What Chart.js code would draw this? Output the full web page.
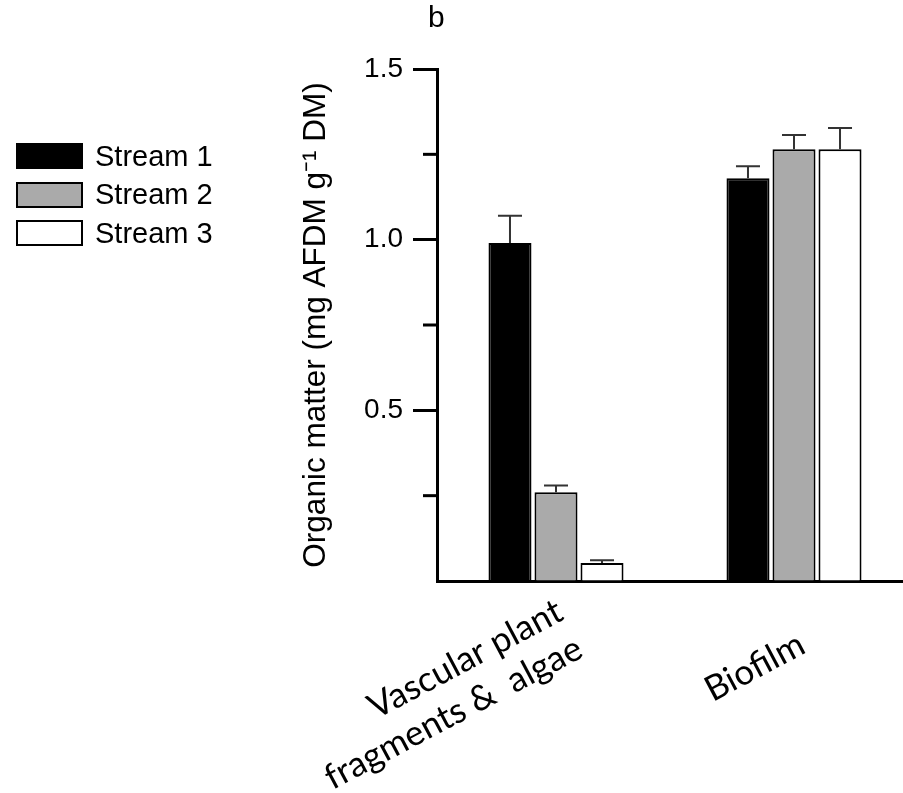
<!DOCTYPE html>
<html>
<head>
<meta charset="utf-8">
<script src="https://cdn.jsdelivr.net/npm/chart.js@4"></script>
<style>
  html, body { margin: 0; padding: 0; background: #fff; overflow: hidden; }
  #wrap { position: relative; width: 903px; height: 793px; overflow: hidden; }
  #panel { position: absolute; left: 428px; top: 0px; font: 30px "Liberation Sans", Arial, sans-serif; }
  #legend { position: absolute; left: 16px; top: 137px; font: 29px "Liberation Sans", Arial, sans-serif; }
  .row { display: flex; align-items: center; height: 38.5px; }
  .box { width: 63px; height: 22px; border: 2px solid #000; margin-right: 12px; }
  canvas { position: absolute; left: 0; top: 0; }
</style>
</head>
<body>
<div id="wrap">
  <canvas id="chart" width="913" height="793"></canvas>
  <div id="panel">b</div>
  <div id="legend"></div>
</div>
<script>
// categories and series
const categories = [['Vascular plant', 'fragments &  algae'], ['Biofilm']];
const seriesNames = ['Stream 1', 'Stream 2', 'Stream 3'];
const seriesColors = ['#000000', '#aaaaaa', '#ffffff'];
const stream1 = [0.99, 1.18];
const stream2 = [0.26, 1.265];
const stream3 = [0.053, 1.265];
// error bars (SE), same order
const err1 = [0.08, 0.035];
const err2 = [0.02, 0.042];
const err3 = [0.008, 0.062];
const majorTicks = [0.5, 1.0, 1.5];
const minorTicks = [0.25, 0.75, 1.25];

const values = [stream1, stream2, stream3];
const errors = [err1, err2, err3];

// html legend
const legend = document.getElementById('legend');
seriesNames.forEach(function(name, i) {
  const row = document.createElement('div');
  row.className = 'row';
  row.innerHTML = '<div class="box" style="background:' + seriesColors[i] + '"></div><span>' + name + '</span>';
  legend.appendChild(row);
});

// error bars, minor ticks and the slanted category labels
const extras = {
  id: 'extras',
  afterDatasetsDraw(chart) {
    const ctx = chart.ctx;
    const y = chart.scales.y;
    ctx.save();
    ctx.strokeStyle = '#333';
    ctx.lineWidth = 2;
    chart.data.datasets.forEach(function(ds, i) {
      const meta = chart.getDatasetMeta(i);
      meta.data.forEach(function(bar, j) {
        const top = y.getPixelForValue(ds.data[j]);
        const e = y.getPixelForValue(ds.data[j] + errors[i][j]);
        ctx.beginPath();
        ctx.moveTo(bar.x, top);
        ctx.lineTo(bar.x, e);
        ctx.moveTo(bar.x - 12, e);
        ctx.lineTo(bar.x + 12, e);
        ctx.stroke();
      });
    });
    ctx.restore();
  },
  afterDraw(chart) {
    const ctx = chart.ctx;
    const y = chart.scales.y;
    const x = chart.scales.x;
    const x0 = chart.chartArea.left;
    ctx.save();
    ctx.strokeStyle = '#000';
    ctx.lineWidth = 3;
    minorTicks.forEach(function(v) {
      const p = y.getPixelForValue(v);
      ctx.beginPath();
      ctx.moveTo(x0 - 14, p);
      ctx.lineTo(x0, p);
      ctx.stroke();
    });
    // labels: right end of first line sits just below each category
    const nudge = [[4, 28], [8, 61]];
    const angle = 28 * Math.PI / 180;
    ctx.fillStyle = '#000';
    ctx.font = '35px Lato';
    ctx.textAlign = 'right';
    ctx.textBaseline = 'middle';
    categories.forEach(function(lines, i) {
      ctx.save();
      ctx.translate(x.getPixelForTick(i) + nudge[i][0], x.top + nudge[i][1]);
      ctx.rotate(-angle);
      lines.forEach(function(t, k) { ctx.fillText(t, 0, k * 42); });
      ctx.restore();
    });
    ctx.restore();
  }
};

new Chart(document.getElementById('chart'), {
  type: 'bar',
  data: {
    labels: categories,
    datasets: seriesNames.map(function(name, i) {
      return {
        label: name,
        data: values[i],
        backgroundColor: seriesColors[i],
        borderColor: '#000',
        borderWidth: 2,
        borderSkipped: 'bottom',
        categoryPercentage: 0.58,
        barPercentage: 0.935
      };
    })
  },
  options: {
    responsive: false,
    animation: false,
    layout: { padding: { left: 297, top: 69, right: 0, bottom: 0 } },
    plugins: { legend: { display: false }, tooltip: { enabled: false } },
    scales: {
      x: {
        afterFit: function(s) { s.height = 212; },
        grid: { display: false, drawTicks: false },
        border: { display: true, color: '#000', width: 3 },
        ticks: { display: false }
      },
      y: {
        min: 0,
        max: 1.5,
        afterFit: function(s) { s.width = 140; },
        afterBuildTicks: function(s) {
          s.ticks = [0].concat(minorTicks, majorTicks).sort().map(function(v) { return { value: v }; });
        },
        grid: {
          drawOnChartArea: false,
          tickLength: 24,
          tickWidth: 3,
          tickColor: function(c) {
            return majorTicks.indexOf(c.tick.value) >= 0 ? '#000' : 'rgba(0,0,0,0)';
          }
        },
        border: { color: '#000', width: 3 },
        ticks: {
          color: '#000',
          padding: 10,
          font: { family: 'Liberation Sans', size: 28 },
          callback: function(v) { return majorTicks.indexOf(v) >= 0 ? v.toFixed(1) : ''; }
        },
        title: {
          display: true,
          text: 'Organic matter (mg AFDM g\u207B\u00B9 DM)',
          color: '#000',
          padding: 0,
          font: { family: 'Liberation Sans', size: 31.5 }
        }
      }
    }
  },
  plugins: [extras]
});
</script>
</body>
</html>
